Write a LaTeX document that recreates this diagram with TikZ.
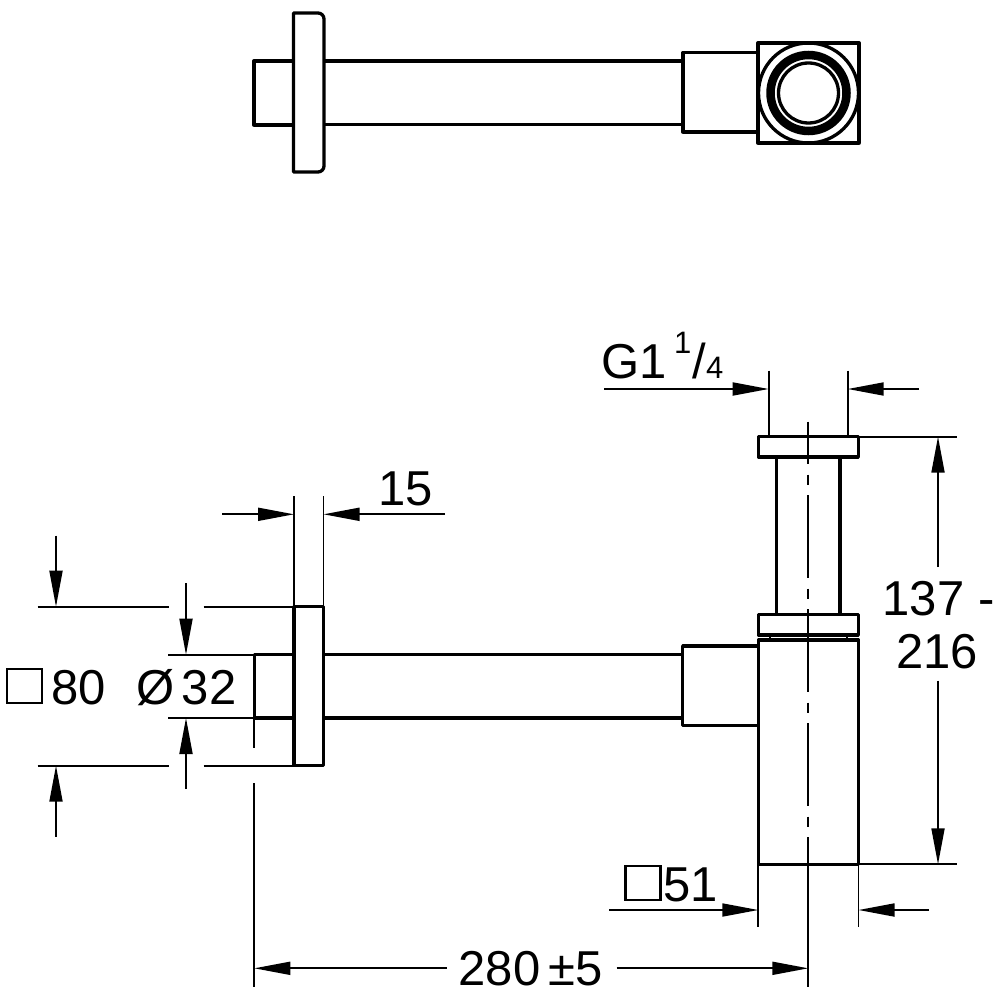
\documentclass[tikz,border=0pt]{standalone}
\usepackage{fontspec}
\setmainfont{Liberation Sans}
\usetikzlibrary{arrows.meta}
\tikzset{
  part/.style={line width=3.3pt,line join=round},
  dimline/.style={line width=1.8pt},
  label/.style={anchor=base west,inner sep=0pt,font=\fontsize{49}{49}\selectfont},
  smalllabel/.style={anchor=base west,inner sep=0pt,font=\fontsize{31}{31}\selectfont},
  sqmark/.style={draw,line width=2.2pt,inner sep=0pt,minimum width=35pt,minimum height=34pt},
}
\begin{document}
\begin{tikzpicture}[x=1pt,y=-1pt,>={Triangle[length=36pt,width=13pt]}]
\useasboundingbox (0,0) rectangle (1000,1000);
\draw[part](254,61) rectangle (293.5,125);
\draw[part](324,61)--(683,61) (324,124.5)--(683,124.5);
\draw[part](293.5,13)--(318,13) arc (-90:0:6)--(324,166) arc (0:90:6)--(293.5,172)--cycle;
\draw[part](758,52.5)--(683,52.5)--(683,132)--(758,132);
\draw[part](758,43) rectangle (859,143);
\draw[part](808.5,93) circle (50);
\draw[line width=8.5pt](808.5,93) circle (38);
\draw[part](808.5,93) circle (30);
\draw[part](254.3,654.7) rectangle (294,718);
\draw[part](324,654.7)--(683,654.7) (324,718)--(683,718);
\draw[part](294,606.7) rectangle (323.5,765.7);
\draw[part](758,646)--(682.7,646)--(682.7,725.7)--(758,725.7);
\draw[part](758.3,640) rectangle (858.7,864.3);
\draw[part](758.3,436.7) rectangle (858.3,457);
\draw[part](758.3,614.7) rectangle (858.3,635);
\draw[part](776.7,457)--(776.7,614.7) (840,457)--(840,614.7);
\draw[dimline](770,635)--(770,640) (846.7,635)--(846.7,640);
\draw[dimline,dash pattern=on 83pt off 10.5pt on 10pt off 10.5pt,dash phase=40.7pt](808.3,421.7)--(808.3,839);
\draw[dimline](808.3,839)--(808.3,987);
\foreach \x in {768.7,847.7}
{
    \draw[dimline](\x,370.7)--(\x,437);
}
\draw[dimline,->](604,389)--(768.7,389);
\draw[dimline,->](919,389)--(847.7,389);
\node[label] (gone) at (601.5,378) {G1};
\node[smalllabel] (gnum) at (674,353) {1};
\node[label] (gslash) at (692.5,378) {/};
\node[smalllabel] (gden) at (706,378) {4};
\foreach \x in {294,323.5}
{
    \draw[dimline](\x,496)--(\x,607);
}
\draw[dimline,->](222,514.3)--(294,514.3);
\draw[dimline,->](445,514.3)--(323.5,514.3);
\node[label] (wfl) at (378,505.7) {15};
\foreach \y in {606.7,765.7}
{
    \draw[dimline](37.7,\y)--(168.7,\y) (203.7,\y)--(294,\y);
}
\draw[dimline](168,654.7)--(254.3,654.7) (168,718)--(254.3,718);
\draw[dimline,->](56,535.7)--(56,606.7);
\draw[dimline,->](56,836.7)--(56,765.7);
\draw[dimline,->](186,583)--(186,654.7);
\draw[dimline,->](186,789)--(186,718);
\node[sqmark] (sqeighty) at (24.5,686) {};
\node[label] (eighty) at (51.5,704) {80};
\node[label] (dia) at (136.5,704) {Ø\kern7pt 32};
\draw[dimline](254.3,718)--(254.3,747.7) (254.3,783)--(254.3,986.7);
\draw[dimline,->](446.7,968.3)--(254.3,968.3);
\draw[dimline,->](616.7,968.3)--(808.3,968.3);
\node[label] (len) at (458.5,985.7) {280\kern8pt ±5};
\foreach \x in {758.3,858.5}
{
    \draw[dimline](\x,864.3)--(\x,927);
}
\draw[dimline,->](609,910)--(758.3,910);
\draw[dimline,->](929,910)--(858.5,910);
\node[sqmark] (sqfifty) at (643,883) {};
\node[label] (fifty) at (663.5,901) {51};
\draw[dimline](858.3,436.7)--(956.7,436.7) (858.7,864.3)--(956.7,864.3);
\draw[dimline,->](938,567)--(938,436.7);
\draw[dimline,->](938,680.7)--(938,864.3);
\node[label] (hmin) at (882.5,615) {137 -};
\node[label] (hmax) at (896,668) {216};
\end{tikzpicture}
\end{document}
